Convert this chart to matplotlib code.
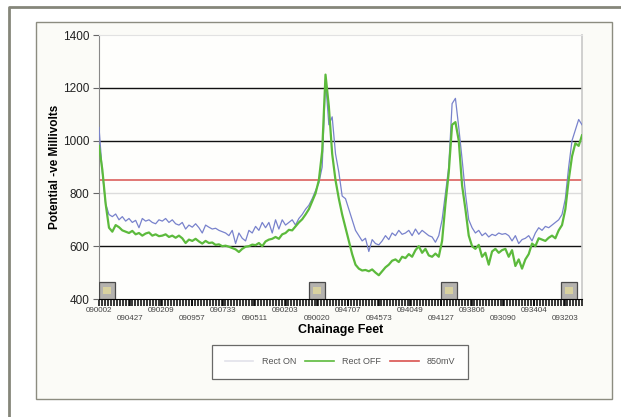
import numpy as np
import matplotlib
matplotlib.use("Agg")
import matplotlib.pyplot as plt
from matplotlib.patches import Rectangle
from matplotlib.lines import Line2D
from matplotlib.ticker import MultipleLocator

plt.rcParams['font.family'] = ['Liberation Sans', 'DejaVu Sans']

# potential readings along the survey, one every ~3 ft step
rect_on = [1050, 880, 760, 720, 712, 722, 700, 712, 695, 705,
           690, 698, 670, 705, 695, 700, 690, 685, 700, 695,
           705, 690, 700, 685, 680, 690, 665, 680, 672, 685,
           670, 650, 680, 672, 665, 668, 660, 655, 650, 640,
           660, 610, 650, 630, 620, 660, 650, 675, 660, 690,
           670, 690, 650, 700, 665, 700, 680, 690, 700, 680,
           705, 720, 740, 755, 780, 810, 840, 900, 1230, 1060,
           1090, 950, 880, 790, 780, 740, 700, 660, 640, 620,
           630, 580, 625, 610, 605, 620, 640, 625, 650, 640,
           660, 645, 650, 660, 640, 665, 645, 660, 650, 640,
           635, 615, 640, 700, 800, 900, 1140, 1160, 1050, 930,
           800, 700, 670, 650, 660, 640, 650, 635, 645, 640,
           650, 645, 648, 640, 620, 640, 610, 625, 630, 640,
           620, 650, 670, 660, 675, 670, 680, 690, 700, 720,
           780, 900, 1000, 1040, 1080, 1060]

rect_off = [980, 890, 760, 670, 655, 680, 672, 660, 655, 650,
            658, 645, 650, 640, 648, 652, 640, 645, 638, 640,
            645, 635, 640, 632, 640, 630, 612, 625, 620, 628,
            618, 610, 620, 612, 614, 605, 607, 600, 602, 598,
            593, 588, 578, 590, 598, 600, 606, 604, 612, 600,
            618, 625, 628, 635, 628, 645, 650, 662, 660, 675,
            690, 702, 720, 740, 770, 800, 850, 960, 1250, 1130,
            950, 850, 780, 720, 670, 620, 570, 530, 515, 508,
            510, 505, 512, 500, 490, 505, 520, 530, 545, 550,
            540, 560, 555, 570, 560, 585, 600, 575, 590, 565,
            560, 572, 560, 620, 760, 880, 1060, 1070, 1000, 830,
            740, 640, 600, 590, 605, 560, 575, 530, 580, 590,
            575, 585, 590, 560, 585, 525, 550, 515, 550, 570,
            610, 600, 630, 625, 620, 632, 640, 630, 660, 680,
            740, 850, 940, 990, 980, 1020]

criterion = 850

chainage_labels = ["090002", "090427", "090209", "090957", "090733", "090511",
                   "090203", "090020", "094707", "094573", "094049", "094127",
                   "093806", "093090", "093404", "093203"]

# test post markers (sample index)
test_posts = [0, 65.5, 105, 141]

x = np.arange(len(rect_on))

fig = plt.figure(figsize=(6.21, 4.17), dpi=100)
fig.patch.set_facecolor('white')

# outer frame and chart box
fig.add_artist(Line2D([9/621, 9/621, 1], [0, 1-6.5/417, 1-6.5/417],
                      transform=fig.transFigure, color='#85867a', lw=2.0))
fig.add_artist(Rectangle((36/621, 1-399/417), (612-36)/621, (399-22)/417,
                         transform=fig.transFigure, fc='#fbfbf7', ec='#8c8c80', lw=1.0, zorder=0))

ax = fig.add_axes([99/621, 1-299/417, (582-99)/621, (299-35)/417])
ax.set_facecolor('#fefefc')

ax.plot(x, rect_on, color='#7882cc', lw=0.9, zorder=3)
ax.plot(x, rect_off, color='#5cba3c', lw=1.6, zorder=4)
ax.axhline(criterion, color='#d9534f', lw=1.1, zorder=2)

for yv in [1200, 1000, 600]:
    ax.axhline(yv, color='#111111', lw=1.0, zorder=1)
ax.axhline(800, color='#dcdcdc', lw=1.0, zorder=1)

for tp in test_posts:
    x0 = min(max(tp - 2.4, 0), len(x) - 1 - 4.8)
    ax.add_patch(Rectangle((x0, 400), 4.8, 64, fc='#b4b2ae', ec='#4a4a4a', lw=0.9, zorder=5))
    ax.add_patch(Rectangle((x0 + 1.2, 418), 2.4, 28, fc='#e8df9a', ec='none', alpha=0.7, zorder=6))

ax.set_xlim(0, len(x) - 1)
ax.set_ylim(400, 1400)
ax.set_yticks([400, 600, 800, 1000, 1200, 1400])
ax.tick_params(axis='y', labelsize=8.5, length=4, color='#666666', labelcolor='#222222', pad=3)

label_pos = np.arange(len(chainage_labels)) * 140 / 15
ax.set_xticks(label_pos)
ax.set_xticklabels([lab if i % 2 == 0 else "\n" + lab for i, lab in enumerate(chainage_labels)])
ax.xaxis.set_minor_locator(MultipleLocator(0.9))
ax.tick_params(axis='x', which='major', labelsize=5.8, labelcolor='#444444', length=5, width=1.1, color='black', pad=1)
ax.tick_params(axis='x', which='minor', length=5, width=1.1, color='black')

ax.spines['left'].set_color('#888888')
ax.spines['bottom'].set_color('black')
ax.spines['top'].set_color('#e2e2e2')
ax.spines['right'].set_color('#c8c8c8')
ax.spines['right'].set_linewidth(1.2)

ax.set_ylabel('Potential -ve Millivolts', fontsize=8.5, fontweight='bold', labelpad=1)
ax.set_xlabel('Chainage Feet', fontsize=9, fontweight='bold', labelpad=1)

handles = [Line2D([], [], color='#e2e2ea', lw=1.2),
           Line2D([], [], color='#5cba3c', lw=1.2),
           Line2D([], [], color='#d9534f', lw=1.2)]
leg = fig.legend(handles, ['Rect ON', 'Rect OFF', '850mV'], loc='center',
                 bbox_to_anchor=(340/621, 1-362/417), ncol=3, fontsize=6.5,
                 frameon=True, fancybox=False, edgecolor='#444444', borderpad=1.4,
                 handlelength=3.2, handletextpad=0.9, columnspacing=1.0)
leg.get_frame().set_linewidth(0.9)
for t in leg.get_texts():
    t.set_color('#555555')

fig.savefig('out.png', dpi=100)
